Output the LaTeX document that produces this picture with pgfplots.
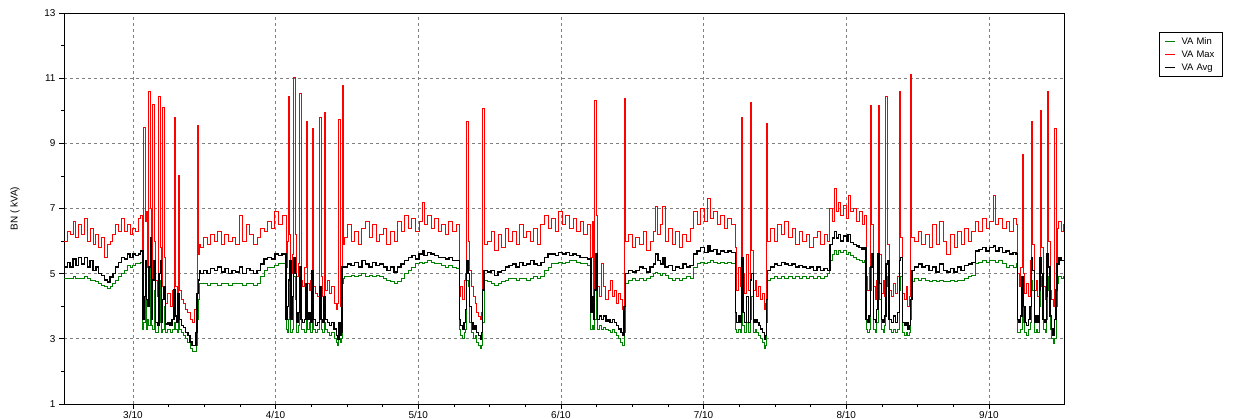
\documentclass[border=0pt]{standalone}
\usepackage{pgfplots}
\usepackage{pgfplotstable}
\pgfplotsset{compat=1.18}
\usepackage{fontspec}
\setmainfont{Liberation Sans}
\definecolor{vagreen}{RGB}{0,128,0}
\definecolor{gridgray}{RGB}{128,128,128}

% t (day of month) | VA Min | VA Max | VA Avg
\pgfplotstableread{
t mn mx av
2.517 4.85 6.0 5.2
2.54 4.85 6.3 5.35
2.56 4.85 6.2 5.2
2.58 4.9 6.6 5.45
2.60 4.85 6.1 5.25
2.62 4.85 6.5 5.5
2.64 4.85 6.2 5.3
2.66 4.9 6.7 5.5
2.68 4.85 6.0 5.2
2.70 4.8 6.4 5.4
2.72 4.8 5.9 5.1
2.74 4.75 6.2 5.2
2.76 4.7 5.8 5.0
2.78 4.65 6.1 4.95
2.80 4.6 5.5 4.8
2.82 4.55 5.9 4.75
2.84 4.6 6.0 4.9
2.86 4.7 6.2 5.0
2.88 4.8 6.5 5.2
2.90 4.9 6.3 5.35
2.92 5.0 6.7 5.5
2.94 5.1 6.3 5.45
2.96 5.25 6.5 5.6
2.98 5.2 6.2 5.5
3.00 5.25 6.4 5.6
3.02 5.3 6.3 5.55
3.04 5.3 6.7 5.6
3.055 5.35 6.8 5.7
3.07 3.3 5.0 3.6
3.077 3.5 9.5 4.3
3.087 4.8 6.6 5.4
3.095 3.3 6.9 4.2
3.105 3.6 5.2 4.0
3.112 3.4 10.6 5.2
3.122 5.3 7.0 6.1
3.13 3.4 4.5 3.6
3.139 3.3 10.2 4.8
3.149 4.5 6.0 5.4
3.16 3.2 4.8 3.5
3.172 3.2 4.3 3.4
3.182 3.5 10.45 5.0
3.192 4.8 5.8 5.4
3.20 3.2 4.6 3.5
3.209 3.3 10.1 4.2
3.219 4.0 5.5 4.6
3.23 3.2 4.1 3.45
3.245 3.3 4.4 3.5
3.26 3.2 4.0 3.4
3.275 3.3 4.5 3.6
3.289 3.5 9.8 4.5
3.299 3.3 4.6 3.7
3.31 3.2 4.3 3.5
3.317 3.6 8.0 4.4
3.327 3.3 4.5 3.6
3.34 3.2 4.2 3.4
3.355 3.1 4.1 3.35
3.37 3.0 3.9 3.2
3.385 2.9 3.8 3.1
3.40 2.7 3.6 2.9
3.415 2.6 3.5 2.8
3.43 2.6 3.9 2.8
3.443 2.8 4.2 3.2
3.45 3.6 9.55 4.4
3.46 4.2 5.6 4.8
3.465 4.7 5.9 5.1
3.47 4.7 5.8 5.0
3.495 4.7 6.1 5.1
3.52 4.65 5.9 5.0
3.545 4.7 6.2 5.15
3.57 4.7 6.0 5.1
3.595 4.65 6.3 5.2
3.62 4.7 5.9 5.05
3.645 4.7 6.2 5.15
3.67 4.65 6.0 5.0
3.695 4.7 6.1 5.1
3.72 4.7 5.9 5.05
3.745 4.7 6.8 5.2
3.77 4.65 6.0 5.0
3.795 4.7 6.5 5.15
3.82 4.7 6.2 5.1
3.845 4.65 5.9 5.0
3.87 4.7 6.1 5.1
3.895 4.9 6.4 5.3
3.92 5.1 6.3 5.45
3.945 5.2 6.6 5.5
3.97 5.2 6.4 5.45
3.995 5.25 6.9 5.6
4.02 5.3 6.5 5.55
4.045 5.3 6.8 5.6
4.073 3.3 5.2 3.6
4.083 3.2 6.0 4.0
4.089 3.6 10.45 4.8
4.099 4.8 6.2 5.4
4.107 3.2 5.0 3.6
4.118 3.3 5.6 4.3
4.127 4.9 11.03 5.5
4.137 4.2 6.2 5.0
4.147 3.2 4.9 3.5
4.158 3.4 5.3 3.8
4.168 4.6 10.54 5.2
4.178 3.3 4.8 3.6
4.19 3.3 4.6 3.5
4.204 3.2 5.2 3.6
4.214 3.8 9.67 4.7
4.224 3.3 4.7 3.6
4.235 3.5 4.5 3.8
4.247 3.2 4.8 3.5
4.256 4.3 9.46 5.1
4.266 3.3 4.6 3.6
4.278 3.2 4.4 3.4
4.293 3.3 4.3 3.5
4.308 3.6 9.8 4.6
4.318 3.3 4.9 3.6
4.328 3.2 4.3 3.5
4.34 3.5 9.94 4.3
4.35 3.3 4.5 3.6
4.362 3.2 4.8 3.5
4.378 3.1 4.4 3.4
4.394 3.2 4.6 3.5
4.41 3.0 4.1 3.3
4.425 2.9 3.9 3.1
4.436 2.8 4.1 3.0
4.444 3.0 9.74 3.5
4.454 2.9 4.0 3.1
4.46 3.0 4.2 3.2
4.466 4.7 10.79 5.2
4.476 4.85 5.9 5.2
4.48 4.9 6.1 5.2
4.505 4.9 6.5 5.3
4.53 4.95 6.0 5.25
4.555 4.9 6.3 5.35
4.58 4.95 5.9 5.2
4.605 5.0 6.4 5.4
4.63 4.9 6.6 5.3
4.655 4.95 6.1 5.2
4.68 4.9 6.5 5.35
4.705 4.95 6.0 5.25
4.73 4.9 6.2 5.3
4.755 4.85 6.4 5.2
4.78 4.8 5.9 5.1
4.805 4.75 6.3 5.2
4.83 4.7 6.0 5.05
4.855 4.75 6.6 5.2
4.88 4.85 6.3 5.3
4.905 5.0 6.8 5.4
4.93 5.1 6.4 5.5
4.955 5.2 6.7 5.55
4.98 5.3 6.3 5.45
5.005 5.35 6.6 5.6
5.03 5.3 7.2 5.7
5.04 5.35 6.5 5.55
5.065 5.4 6.8 5.65
5.09 5.35 6.4 5.6
5.115 5.3 6.7 5.55
5.14 5.3 6.3 5.5
5.165 5.25 6.5 5.5
5.19 5.2 6.2 5.45
5.215 5.25 6.6 5.5
5.24 5.2 6.3 5.4
5.265 5.15 6.5 5.4
5.288 3.3 4.3 3.6
5.298 3.1 4.6 3.4
5.31 3.0 4.2 3.3
5.322 3.2 4.8 3.5
5.333 3.3 5.0 3.9
5.34 4.8 9.67 5.4
5.35 4.6 6.0 5.0
5.36 3.5 5.1 4.0
5.372 3.2 4.6 3.5
5.385 3.0 4.3 3.3
5.398 3.1 4.1 3.4
5.41 2.9 3.8 3.2
5.422 2.8 3.7 3.1
5.435 2.7 3.6 3.0
5.445 2.8 3.8 3.2
5.452 3.5 10.08 4.5
5.462 4.8 5.9 5.1
5.485 4.75 6.0 5.05
5.51 4.7 6.3 5.1
5.535 4.65 5.7 4.95
5.56 4.7 6.2 5.05
5.585 4.75 5.8 5.1
5.61 4.8 6.4 5.2
5.635 4.85 6.0 5.25
5.66 4.85 6.3 5.3
5.685 4.8 5.9 5.2
5.71 4.85 6.5 5.35
5.735 4.85 6.1 5.25
5.76 4.8 6.3 5.3
5.785 4.85 6.0 5.4
5.81 4.9 6.4 5.3
5.835 4.85 5.9 5.25
5.86 4.9 6.5 5.35
5.885 5.1 6.8 5.5
5.91 5.2 6.4 5.6
5.935 5.3 6.7 5.6
5.96 5.3 6.3 5.55
5.985 5.35 6.9 5.65
6.01 5.3 6.5 5.6
6.035 5.35 6.8 5.65
6.06 5.4 6.4 5.55
6.085 5.4 6.7 5.6
6.11 5.35 6.3 5.55
6.135 5.3 6.6 5.5
6.16 5.3 6.2 5.5
6.185 5.25 6.5 5.45
6.21 3.3 5.5 3.8
6.22 3.4 6.6 4.3
6.228 3.3 4.2 3.6
6.237 3.6 10.33 4.5
6.247 5.2 6.8 5.6
6.255 3.3 4.6 3.6
6.27 3.4 4.3 3.7
6.285 3.3 5.3 3.6
6.30 3.35 4.6 3.7
6.315 3.3 4.2 3.55
6.33 3.25 4.5 3.6
6.345 3.2 4.8 3.5
6.36 3.3 4.3 3.6
6.375 3.2 4.5 3.5
6.39 3.1 4.1 3.4
6.405 3.0 4.4 3.3
6.42 2.9 4.2 3.2
6.432 2.8 3.9 3.1
6.442 3.2 10.38 4.0
6.452 4.7 6.0 5.0
6.475 4.8 6.2 5.1
6.50 4.85 5.8 5.05
6.525 4.8 6.1 5.1
6.55 4.85 5.9 5.2
6.575 4.8 6.3 5.15
6.60 4.85 5.7 5.05
6.625 4.9 6.0 5.2
6.65 5.0 6.3 5.3
6.665 5.05 7.05 5.6
6.68 5.0 6.2 5.4
6.70 4.95 6.5 5.3
6.715 5.0 7.05 5.5
6.73 4.95 6.0 5.2
6.755 4.85 6.4 5.25
6.78 4.8 5.9 5.1
6.805 4.85 6.3 5.2
6.83 4.8 5.8 5.15
6.855 4.85 6.2 5.3
6.88 4.9 6.0 5.2
6.905 4.85 6.4 5.25
6.93 5.2 6.9 5.6
6.955 5.3 6.5 5.7
6.98 5.35 7.0 5.8
7.005 5.3 6.6 5.65
7.03 5.35 7.3 5.85
7.045 5.4 6.7 5.7
7.07 5.35 6.9 5.75
7.095 5.3 6.5 5.6
7.12 5.35 6.8 5.7
7.145 5.3 6.4 5.65
7.17 5.35 6.7 5.7
7.195 5.3 6.5 5.65
7.222 3.3 5.8 3.8
7.232 3.2 4.5 3.5
7.245 3.3 5.2 3.7
7.256 3.2 4.6 3.5
7.265 4.9 9.8 5.5
7.275 3.4 5.0 3.8
7.285 3.2 4.4 3.5
7.30 3.5 5.6 4.3
7.315 3.2 4.5 3.5
7.327 3.6 10.25 4.8
7.337 4.3 5.7 5.0
7.348 3.2 4.5 3.5
7.36 3.3 4.8 3.6
7.373 3.2 4.3 3.5
7.387 3.1 4.6 3.4
7.40 3.0 4.2 3.3
7.413 2.9 4.4 3.2
7.425 2.7 3.9 3.0
7.433 2.8 4.1 3.1
7.439 3.5 9.6 4.2
7.449 4.8 6.0 5.1
7.47 4.85 6.4 5.2
7.495 4.9 6.0 5.3
7.52 4.85 6.5 5.25
7.545 4.9 6.2 5.35
7.57 4.85 6.6 5.3
7.595 4.9 6.1 5.25
7.62 4.85 6.4 5.3
7.645 4.9 5.9 5.2
7.67 4.85 6.3 5.25
7.695 4.9 6.0 5.2
7.72 4.85 6.2 5.15
7.745 4.9 5.8 5.2
7.77 4.85 6.1 5.1
7.795 4.9 6.3 5.2
7.82 4.85 5.9 5.1
7.845 4.9 6.2 5.15
7.87 5.0 6.0 5.1
7.885 5.4 7.0 5.9
7.905 5.6 6.6 6.1
7.918 5.7 7.6 6.3
7.93 5.6 6.9 6.1
7.945 5.7 7.2 6.2
7.96 5.65 6.8 6.0
7.98 5.7 7.1 6.15
8.00 5.6 6.7 6.0
8.013 5.65 7.4 6.2
8.03 5.55 6.9 5.95
8.05 5.5 7.0 5.9
8.07 5.45 6.6 5.85
8.09 5.4 6.9 5.8
8.11 5.35 6.5 5.75
8.125 5.4 6.8 5.8
8.138 3.3 4.9 3.6
8.148 3.2 4.5 3.5
8.16 3.3 5.2 3.7
8.169 4.5 10.15 5.2
8.179 5.3 6.5 5.6
8.19 3.3 4.6 3.6
8.205 3.2 4.2 3.5
8.214 3.5 4.8 3.9
8.223 5.0 10.15 5.6
8.233 4.2 5.6 4.7
8.245 3.3 4.4 3.6
8.258 3.2 4.8 3.5
8.27 3.4 4.3 3.7
8.278 4.6 10.45 5.3
8.288 4.9 5.9 5.4
8.30 3.3 4.5 3.6
8.315 3.2 4.3 3.5
8.33 3.3 4.7 3.7
8.345 3.2 4.4 3.5
8.36 3.3 4.9 3.8
8.372 4.5 10.59 5.4
8.382 4.9 6.1 5.5
8.393 3.2 4.4 3.5
8.408 3.1 4.2 3.4
8.42 3.2 4.6 3.5
8.432 3.1 4.0 3.3
8.443 3.2 4.3 3.4
8.45 3.6 11.1 4.2
8.46 4.75 6.1 5.1
8.48 4.85 6.0 5.2
8.505 4.8 6.3 5.3
8.53 4.85 5.9 5.2
8.555 4.8 6.2 5.25
8.58 4.75 5.8 5.1
8.605 4.8 6.5 5.2
8.63 4.75 5.9 5.05
8.655 4.8 6.6 5.3
8.68 4.75 6.0 5.1
8.705 4.75 5.6 5.05
8.73 4.8 6.2 5.15
8.755 4.75 5.8 5.05
8.78 4.8 6.3 5.2
8.805 4.8 5.9 5.1
8.83 4.85 6.4 5.25
8.855 4.9 6.0 5.3
8.88 4.95 6.3 5.35
8.905 5.3 6.6 5.7
8.93 5.35 6.3 5.75
8.955 5.4 6.7 5.8
8.98 5.35 6.4 5.7
9.005 5.4 6.6 5.8
9.032 5.4 7.4 5.85
9.045 5.35 6.5 5.7
9.07 5.4 6.7 5.8
9.095 5.3 6.4 5.65
9.12 5.2 6.6 5.7
9.145 5.25 6.3 5.6
9.17 5.2 6.7 5.65
9.19 5.3 6.5 5.6
9.20 3.2 5.0 3.6
9.212 3.2 4.6 3.5
9.223 3.3 5.2 3.7
9.232 4.2 8.67 4.9
9.242 3.5 5.0 4.0
9.252 3.2 4.4 3.5
9.265 3.1 4.7 3.4
9.278 3.3 4.3 3.6
9.289 3.5 5.4 4.0
9.297 4.8 9.67 5.5
9.307 4.5 5.9 5.1
9.318 3.2 4.5 3.5
9.33 3.3 4.8 3.7
9.343 3.2 4.3 3.5
9.353 4.0 5.3 4.5
9.359 4.9 10.02 5.5
9.369 4.6 5.8 5.0
9.38 3.3 4.6 3.6
9.393 3.2 4.2 3.5
9.402 3.6 5.5 4.3
9.408 4.9 10.59 5.6
9.418 4.5 6.0 5.2
9.428 3.3 4.5 3.7
9.44 3.0 4.2 3.3
9.45 2.85 4.0 3.1
9.461 3.0 9.46 3.6
9.471 4.0 5.2 4.5
9.478 4.7 6.4 5.3
9.49 4.9 6.6 5.5
9.505 4.85 6.3 5.4
9.52 4.9 6.5 5.4
9.526 4.9 6.5 5.4
}\vadata

\begin{document}
\begin{tikzpicture}
  \path[use as bounding box] (0,0) rectangle (1234bp,419bp);
  \begin{axis}[
    at={(64bp,15bp)}, anchor=south west,
    scale only axis, width=1000bp, height=391bp,
    xmin=2.517, xmax=9.526, ymin=1, ymax=13,
    xtick={3,...,9},
    xticklabels={3/10,4/10,5/10,6/10,7/10,8/10,9/10},
    minor x tick num=3,
    ytick={1,3,...,13}, minor y tick num=1,
    tick pos=left, tick align=outside,
    major tick length=5bp, minor tick length=3bp,
    tick style={black, line width=0.8bp},
    axis line style={black, line width=0.9bp},
    xmajorgrids, ymajorgrids,
    major grid style={gridgray, line width=0.8bp, dash pattern=on 3bp off 3bp},
    ticklabel style={font=\fontsize{10}{12}\selectfont},
    /pgf/number format/assume math mode=true,
    xticklabel style={yshift=1bp},
    ylabel={BN ( kVA)},
    ylabel style={font=\fontsize{10}{12}\selectfont},
    every axis y label/.style={at={(axis description cs:-0.049,0.5)}, rotate=90, anchor=center},
    legend style={at={(1.095,0.952)}, anchor=north west, draw=black,
      line width=0.9bp,
      font=\fontsize{9.5}{11}\selectfont, inner xsep=3bp, inner ysep=3bp,
      row sep=1bp,
      cells={anchor=west, text width=36bp}},
    legend image code/.code={\path (-2bp,0bp) (14bp,0bp);
      \draw[#1] (0bp,0bp) -- (10bp,0bp);},
  ]
    \addlegendimage{vagreen, line width=1.1bp}
    \addlegendimage{red, line width=1.1bp}
    \addlegendimage{black, line width=1.1bp}
    \addplot[const plot, vagreen, line width=0.9bp, forget plot] table[x=t, y=mn] {\vadata};
    \addplot[const plot, red, line width=0.9bp, forget plot] table[x=t, y=mx] {\vadata};
    \addplot[const plot, black, line width=1.4bp, forget plot] table[x=t, y=av] {\vadata};
    \legend{VA Min, VA Max, VA Avg}
  \end{axis}
\end{tikzpicture}
\end{document}
